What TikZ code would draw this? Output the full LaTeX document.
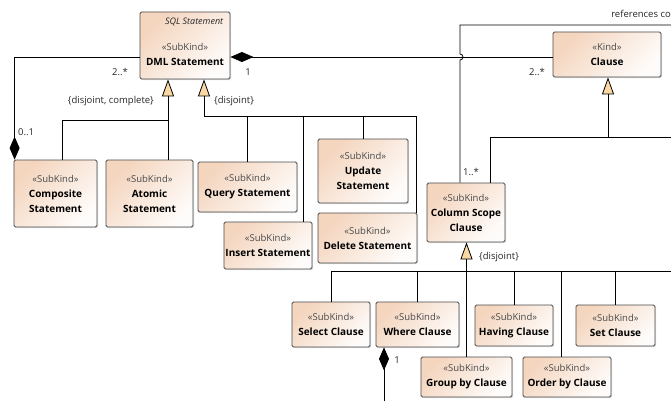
\documentclass[tikz,border=0pt]{standalone}
\usepackage{fontspec}
\setmainfont{Open Sans}
\usetikzlibrary{arrows.meta,shadows}
\definecolor{boxfill}{HTML}{F4D5BE}
\definecolor{boxline}{HTML}{4A4A4A}
\definecolor{stereo}{HTML}{4A4A4A}
\definecolor{genfill}{HTML}{FBD7A3}
\newcommand{\stype}[1]{{\fontsize{9.5}{10}\selectfont\mdseries\color{stereo}«#1»}}
\begin{document}
\begin{tikzpicture}[x=1pt,y=-1pt,
  cls/.style={draw=boxline,line width=0.8pt,rounded corners=1.5pt,
    top color=boxfill,bottom color=white!92!boxfill,shading angle=45,
    drop shadow={shadow xshift=1.2pt,shadow yshift=-1.2pt,opacity=0.25},
    align=center,inner sep=1pt,font=\fontsize{10}{15}\selectfont\bfseries},
  gen/.style={line width=0.8pt,-{Triangle[length=17pt,width=12pt,fill=genfill]}},
  compo/.style={line width=0.8pt,-{Diamond[length=23pt,width=10pt]}},
  lbl/.style={font=\fontsize{9.5}{11}\selectfont,text=black!85,inner sep=0pt}]
  \useasboundingbox (0,0) rectangle (671,401);
  % statements
  \node[cls,minimum width=90pt,minimum height=67pt] (dml) at (185,45.5) {};
  \node[lbl,font=\fontsize{9}{10}\selectfont\itshape,anchor=north east] (dmlpkg)
    at ([xshift=-7pt,yshift=-6pt]dml.north east) {SQL Statement};
  \node[align=center,font=\fontsize{10}{15}\selectfont\bfseries] (dmltxt)
    at ([yshift=-8.5pt]dml.center) {\stype{SubKind}\\DML Statement};
  \node[cls,minimum width=83pt,minimum height=67pt] (comp) at (55.5,193.5) {\stype{SubKind}\\Composite\\Statement};
  \node[cls,minimum width=87pt,minimum height=67pt] (atomic) at (149.5,193.5) {\stype{SubKind}\\Atomic\\Statement};
  \node[cls,minimum width=99pt,minimum height=50pt] (query) at (247.5,187) {\stype{SubKind}\\Query Statement};
  \node[cls,minimum width=90pt,minimum height=64pt] (update) at (363,171) {\stype{SubKind}\\Update\\Statement};
  \node[cls,minimum width=88pt,minimum height=47pt] (insert) at (268,245.5) {\stype{SubKind}\\Insert Statement};
  \node[cls,minimum width=99pt,minimum height=50pt] (delete) at (367.5,238) {\stype{SubKind}\\Delete Statement};
  % clauses
  \node[cls,minimum width=108pt,minimum height=45pt] (clause) at (607,54.5) {\stype{Kind}\\Clause};
  \node[cls,minimum width=78pt,minimum height=59pt] (colscope) at (466,212.5) {\stype{SubKind}\\Column Scope\\Clause};
  \node[cls,minimum width=78pt,minimum height=45pt] (select) at (331,324.5) {\stype{SubKind}\\Select Clause};
  \node[cls,minimum width=83pt,minimum height=45pt] (where) at (417.5,324.5) {\stype{SubKind}\\Where Clause};
  \node[cls,minimum width=78pt,minimum height=41pt] (having) at (514,325.5) {\stype{SubKind}\\Having Clause};
  \node[cls,minimum width=79pt,minimum height=41pt] (setc) at (615.5,325.5) {\stype{SubKind}\\Set Clause};
  \node[cls,minimum width=91pt,minimum height=40pt] (group) at (466.5,377) {\stype{SubKind}\\Group by Clause};
  \node[cls,minimum width=88pt,minimum height=40pt] (order) at (567,377) {\stype{SubKind}\\Order by Clause};
  % junctions and free ends
  \coordinate (jA) at (168,120);
  \coordinate (jB) at (204,116);
  \coordinate (jC) at (608,137);
  \coordinate (cR) at (671,137);
  \coordinate (kR) at (671,271);
  \coordinate (refR) at (671,25);
  \coordinate (hopA) at (460,60);
  \coordinate (hopB) at (460,25);
  \coordinate (wB) at (384,401);
  % generalizations
  \draw[gen] (atomic.north -| jA) -- (dml.south -| jA);
  \draw[line width=0.8pt] ([xshift=6.5pt]comp.north) |- (jA);
  \draw[gen] (jB) -- (dml.south -| jB);
  \draw[line width=0.8pt] (query.north) |- (jB);
  \draw[line width=0.8pt] ([xshift=35pt]insert.north) |- (jB);
  \draw[line width=0.8pt] (update.north) |- (jB);
  \draw[line width=0.8pt] ([xshift=-1.5pt]delete.north east) |- (jB);
  \draw[gen] (jC) -- (clause.south -| jC);
  \draw[line width=0.8pt] ([xshift=24pt]colscope.north) |- (cR);
  \draw[gen] (group.north) -- (group.north |- colscope.south);
  \draw[line width=0.8pt] (select.north) |- (kR);
  \draw[line width=0.8pt] (where.north) |- (kR);
  \draw[line width=0.8pt] (having.north) |- (kR);
  \draw[line width=0.8pt] (setc.north) |- (kR);
  \draw[line width=0.8pt] ([xshift=-6pt]order.north) |- (kR);
  % compositions
  \draw[compo] ([yshift=-11.5pt]dml.west) -| ([xshift=1pt]comp.north west);
  \draw[compo] ([yshift=-2.5pt]clause.west) -- ([yshift=-11.5pt]dml.east);
  \draw[compo] (wB) -- ([xshift=-33.5pt]where.south);
  \draw[line width=0.8pt] ([xshift=-6pt]colscope.north) -- (hopA)
    arc[start angle=90,end angle=-90,radius=3] -- (hopB) -- (refR);
  % labels
  \node[lbl] (m1) at (120,72) {2..*};
  \node[lbl,anchor=west] (m2) at (18,132) {0..1};
  \node[lbl] (m3) at (248,72) {1};
  \node[lbl] (m4) at (537,72) {2..*};
  \node[lbl] (m5) at (471,172) {1..*};
  \node[lbl] (m6) at (397,360) {1};
  \node[lbl,anchor=east] (d1) at (154,101) {\{disjoint, complete\}};
  \node[lbl,anchor=west] (d2) at (214,101) {\{disjoint\}};
  \node[lbl,anchor=west] (d3) at (479,257) {\{disjoint\}};
  \node[lbl,anchor=east] (refs) at (671,14) {references co};
\end{tikzpicture}
\end{document}
